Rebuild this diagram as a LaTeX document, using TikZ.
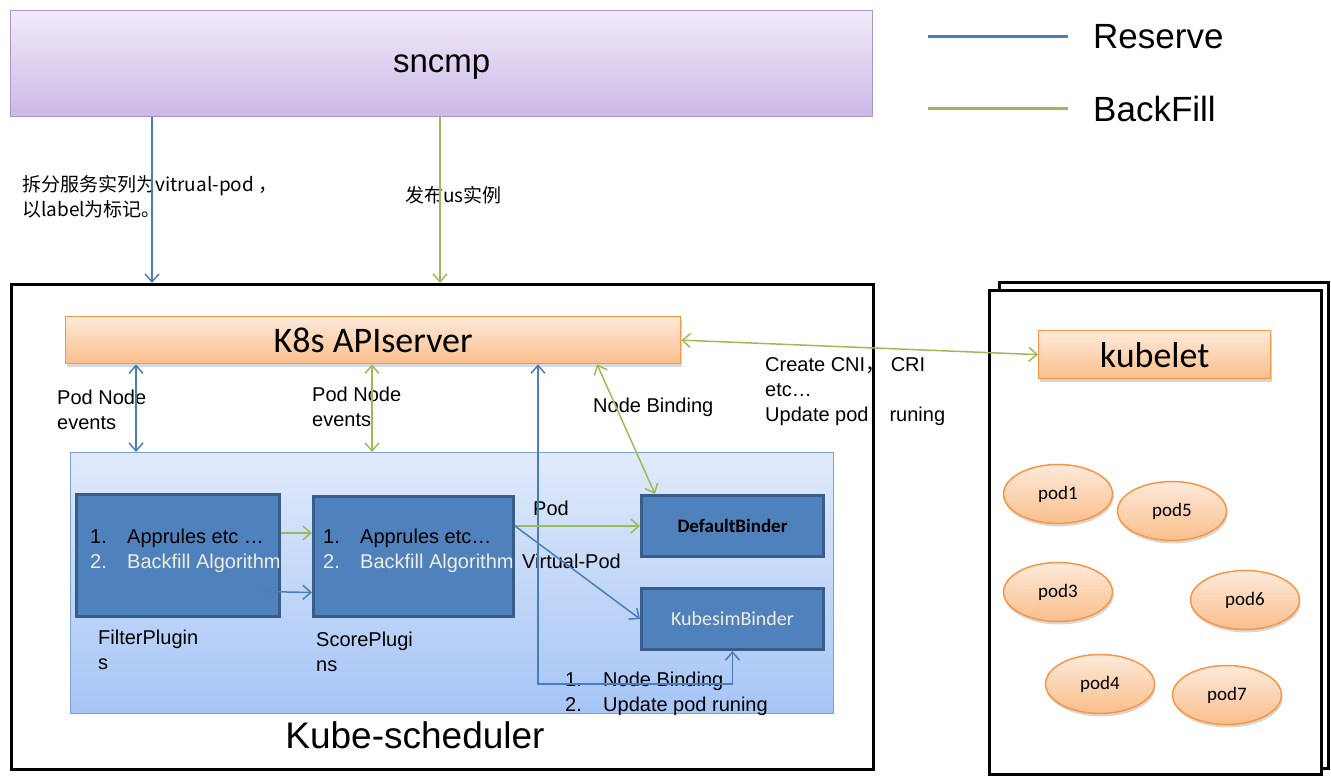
\documentclass[tikz,border=0pt]{standalone}
\usepackage{fontspec}
\setmainfont{Liberation Sans}
\newfontfamily\calfont{Carlito}
\newfontfamily\cjk{Noto Sans CJK SC}
\usetikzlibrary{arrows.meta,positioning,shadows,shapes.geometric}
\definecolor{rsvblue}{RGB}{74,126,187}
\definecolor{bkfgreen}{RGB}{155,187,89}
\definecolor{orgline}{RGB}{247,150,70}
\definecolor{orgtop}{RGB}{253,234,218}
\definecolor{orgbot}{RGB}{250,190,140}
\definecolor{purtop}{RGB}{242,235,250}
\definecolor{purbot}{RGB}{203,184,230}
\definecolor{purline}{RGB}{170,150,205}
\definecolor{pltop}{RGB}{224,234,251}
\definecolor{plbot}{RGB}{166,197,246}
\definecolor{plline}{RGB}{125,160,215}
\definecolor{boxfill}{RGB}{79,129,189}
\definecolor{boxline}{RGB}{56,93,138}
\definecolor{cream}{RGB}{240,236,222}
\tikzstyle{rsv}=[rsvblue,line width=1.5pt]
\tikzstyle{bkf}=[bkfgreen,line width=1.5pt]
\tikzstyle{shd}=[drop shadow={opacity=.3,shadow xshift=1pt,shadow yshift=-3pt}]
\tikzstyle{obox}=[draw=orgline,line width=1.3pt,top color=orgtop,bottom color=orgbot,shd,anchor=north west]
\tikzstyle{bbox}=[draw=boxline,line width=3pt,fill=boxfill,anchor=north west]
\tikzstyle{fr}=[draw,line width=3pt,anchor=north west]
\tikzstyle{pod}=[ellipse,draw=orgline,line width=1.5pt,top color=orgtop,bottom color=orgbot,shd,minimum width=109pt,minimum height=59pt,inner sep=0pt,font=\calfont\fontsize{19}{19}\selectfont]
\tikzstyle{lbl}=[font=\fontsize{20}{25}\selectfont,align=left,anchor=west,inner sep=0pt]

\begin{document}
\begin{tikzpicture}[x=1pt,y=-1pt,>={Straight Barb[length=8pt,width=14pt]}]
\useasboundingbox (0,0) rectangle (1331,781);
\node[draw=purline,line width=1.3pt,top color=purtop,bottom color=purbot,anchor=north west,minimum width=862pt,minimum height=106pt,text depth=0pt,font=\fontsize{33}{33}\selectfont] (sn) at (10,10) {sncmp};
\foreach \y/\c/\t/\n in {37/rsv/Reserve/lr, 109/bkf/BackFill/lb} {
    \coordinate (\n) at (928,\y);
    \node[font=\fontsize{35}{35}\selectfont,anchor=west,inner sep=0pt] (\n-t) at (1093,\y) {\t};
    \draw[\c,line width=3pt] (\n) -- ([xshift=-25pt]\n-t.west);}
\node[lbl] (t6) at (765,392) {Create CNI{\cjk ，}\ CRI\\etc…\\Update pod\hspace{21pt}runing};
\node[fr,minimum width=862pt,minimum height=485pt] (ks) at (10,283) {};
\node[font=\fontsize{37}{37}\selectfont] (kst) at (415,735) {Kube-scheduler};
\node[obox,minimum width=615pt,minimum height=47pt,font=\calfont\fontsize{36}{36}\selectfont] (api) at (65,316) {K8s APIserver};
\node[draw=plline,line width=1.3pt,top color=pltop,bottom color=plbot,anchor=north west,minimum width=763pt,minimum height=261pt] (plug) at (70,452) {};
\node[bbox,minimum width=203pt,minimum height=122pt] (fl) at (75,493) {};
\node[bbox,minimum width=200pt,minimum height=120pt] (sc) at (312,495) {};
\node[bbox,minimum width=182pt,minimum height=61pt,font=\calfont\bfseries\fontsize{19}{19}\selectfont] (db) at (640,494) {DefaultBinder};
\node[bbox,minimum width=182pt,minimum height=61pt,text=cream,font=\calfont\fontsize{20}{20}\selectfont] (kb) at (640,587) {KubesimBinder};
\foreach \b/\x/\t in {fl/90/{Apprules etc …}, sc/323/{Apprules etc…}}
    \node[lbl] (\b-t) at (\x,551) {\makebox[37pt][l]{1.}\t\\\textcolor{cream}{\makebox[37pt][l]{2.}Backfill Algorithm}};
\node[lbl] (flp) at (98,650) {FilterPlugin\\s};
\node[lbl] (scp) at (316,652) {ScorePlugi\\ns};
\node[fr,minimum width=329pt,minimum height=486pt] (nb) at (998,281) {};
\node[fr,fill=white,minimum width=332pt,minimum height=484pt] (nf) at (988,289) {};
\node[obox,minimum width=232pt,minimum height=48pt,font=\calfont\fontsize{36}{36}\selectfont] (kl) at (1038,330) {kubelet};
\foreach \n/\x/\y in {1/1058/494, 5/1172/511, 3/1058/592, 6/1245/600, 4/1100/684, 7/1227/695}
    \node[pod] (p\n) at (\x,\y) {pod\n};
\node[lbl,font=\cjk\fontsize{19}{25}\selectfont] (t1) at (22,197) {拆分服务实列为vitrual-pod ，\\以label为标记。};
\node[lbl,font=\cjk\fontsize{19}{25}\selectfont] (t2) at (405,195) {发布us实例};
\node[lbl] (t3) at (57,410) {Pod Node\\events};
\node[lbl] (t4) at (312,407) {Pod Node\\events};
\node[lbl] (t5) at (593,407) {Node Binding};
\node[lbl] (t7) at (533,508) {Pod};
\node[lbl] (t8) at (522,561) {Virtual-Pod};
\node[lbl] (t9) at (565,694) {\makebox[38pt][l]{1.}Node Binding\\\makebox[38pt][l]{2.}Update pod runing};
\foreach \n/\x in {ca/152, cb/440, cc/136, cd/372, cg/597, ch/655}
    \coordinate (\n) at (\x,0);
\coordinate (bend) at (538,684);
\draw[rsv,->] (sn.south -| ca) -- (ks.north -| ca);
\draw[bkf,->] (sn.south -| cb) -- (ks.north -| cb);
\draw[rsv,<->] (api.south -| cc) -- (plug.north -| cc);
\draw[bkf,<->] (api.south -| cd) -- (plug.north -| cd);
\draw[bkf,<->] (api.south -| cg) -- (db.north -| ch);
\draw[bkf,<->] (api.east) -- (kl.west);
\draw[rsv,<->] (api.south -| bend) -- (bend) -| (kb.south);
\draw[bkf,->] ([yshift=-40pt]fl.north east) -- ([yshift=-38pt]sc.north west);
\draw[rsv,->] ([shift={(-20,36)}]fl.east) -- ([yshift=-36pt]sc.west);
\draw[bkf,->] (sc.east |- db.west) -- (db.west);
\draw[rsv,->] (sc.east |- db.west) -- (kb.west);
\end{tikzpicture}
\end{document}
